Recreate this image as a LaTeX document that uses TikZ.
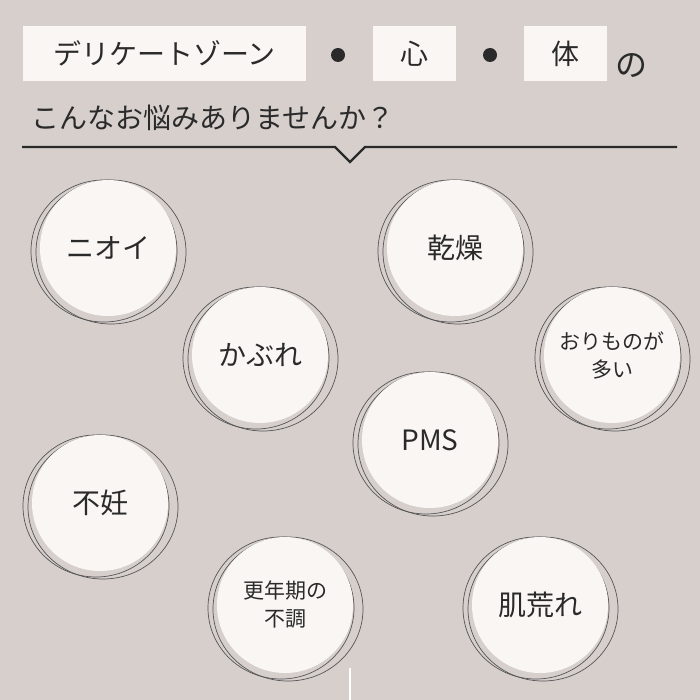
\documentclass[tikz,border=0pt]{standalone}
\usepackage{fontspec}
\newfontfamily\jp{Noto Sans CJK JP}
\definecolor{bg}{HTML}{D6CFCC}
\definecolor{cf}{HTML}{F9F6F4}
\definecolor{ink}{HTML}{2A2A2A}
\begin{document}
\begin{tikzpicture}[x=1pt,y=-1pt,
  hbox/.style={fill=cf,minimum height=55pt,inner sep=0pt,font=\jp\fontsize{28}{28}\selectfont,text=ink},
  lbl/.style={font=\jp\fontsize{28}{32}\selectfont,text=ink,align=center},
  lbls/.style={font=\jp\fontsize{21}{28}\selectfont,text=ink,align=center}]
\fill[bg] (0,0) rectangle (700,700);
\useasboundingbox (0,0) rectangle (700,700);
\node[hbox,minimum width=283pt] (h1) at (164.5,53.5) {デリケートゾーン};
\node[hbox,minimum width=83pt] (h2) at (414.5,53.5) {心};
\node[hbox,minimum width=83pt] (h3) at (565.5,53.5) {体};
\fill[ink] (338,55) circle (7);
\fill[ink] (490,55) circle (7);
\node[lbl,anchor=west,font=\jp\fontsize{32}{32}\selectfont] (no) at (612,66) {の};
\node[lbl,anchor=west] (q) at (28,118) {こんなお悩みありませんか？};
\draw[ink,line width=2.2pt] (22,147) -- (335,147) -- (350,162) -- (365,147) -- (677,147);
\draw[white,line width=1.5pt] (350,668) -- (350,700);
\newcommand\bub[5]{%
  \draw[ink!80,line width=0.7pt] (#1-4,#2+3) ellipse (73 and 71);
  \draw[ink!80,line width=0.7pt] (#1+3,#2+4) ellipse (75 and 72);
  \fill[cf] (#1,#2) circle (68);
  \node[#4] (#5) at (#1,#2) {#3};}
\bub{108}{248}{ニオイ}{lbl}{b1}
\bub{260}{355}{かぶれ}{lbl}{b2}
\bub{455}{248}{乾燥}{lbl}{b3}
\bub{612}{355}{おりものが\\多い}{lbls}{b4}
\bub{430}{440}{PMS}{lbl}{b5}
\bub{100}{503}{不妊}{lbl}{b6}
\bub{285}{605}{更年期の\\不調}{lbls}{b7}
\bub{540}{605}{肌荒れ}{lbl}{b8}
\end{tikzpicture}
\end{document}
